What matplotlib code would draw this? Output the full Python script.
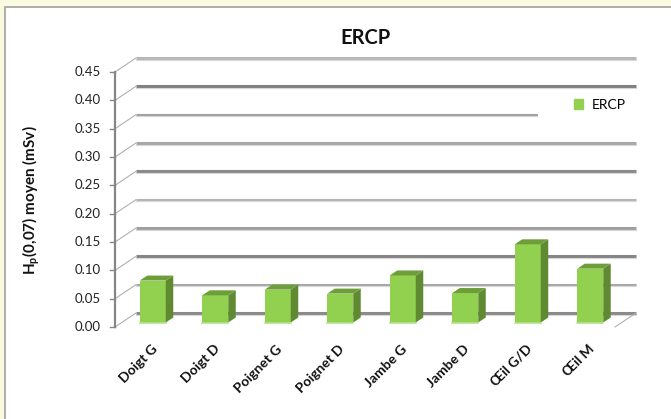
import matplotlib
matplotlib.use("Agg")
from matplotlib import pyplot as plt
from matplotlib.patches import Rectangle, Polygon, Patch

categories = ["Doigt G", "Doigt D", "Poignet G", "Poignet D", "Jambe G", "Jambe D", "Œil G/D", "Œil M"]
values = [0.074, 0.048, 0.058, 0.051, 0.083, 0.052, 0.138, 0.095]
yticks = [0.00, 0.05, 0.10, 0.15, 0.20, 0.25, 0.30, 0.35, 0.40, 0.45]
grid_colors = ["#8a8a8a", "#a8a8a8", "#858585", "#a0a0a0", "#b4b4b4",
               "#8a8a8a", "#a8a8a8", "#a0a0a0", "#808080", "#b8b8b8"]

W, H = 671, 419
plt.rcParams['font.family'] = ['Lato', 'DejaVu Sans']

fig = plt.figure(figsize=(W / 100, H / 100), dpi=100)
fig.patch.set_facecolor("#fafae0")
fig.patches.append(Rectangle((4.5 / W, -0.01), 1.1, 1.01 - 7.5 / H, transform=fig.transFigure,
                             facecolor="white", edgecolor="#a0a0a0", lw=1.2, zorder=-10))

# front plane of the plot, in pixels
L, R, T, B = 115, 615, 72, 327
ax = fig.add_axes([L / W, 1 - B / H, (R - L) / W, (B - T) / H])
ax.set_xlim(0, 8)
ax.set_ylim(0, 0.45)
ax.axis("off")
ax.patch.set_alpha(0)

px = 8 / (R - L)
py = 0.45 / (B - T)

# depth offsets in pixels
back = (21, 14)
bfront = (6.5, 4.5)
bback = (14, 9.5)

# back wall gridlines and side diagonals
for v, c in zip(yticks, grid_colors):
    ax.plot([back[0] * px, 8 + back[0] * px], [v + back[1] * py] * 2, color=c, lw=2.2,
            solid_capstyle="butt", clip_on=False, zorder=1)
    ax.plot([back[0] * px, 8 + back[0] * px], [v + (back[1] - 1.8) * py] * 2, color="#d8d8d8",
            lw=0.8, clip_on=False, zorder=1)
    ax.plot([0, back[0] * px], [v, v + back[1] * py], color="#b0b0b0", lw=0.8, clip_on=False, zorder=1)
    ax.plot([-5 * px, 0], [v, v], color="#868686", lw=1.0, clip_on=False, zorder=2)
    ax.text(-14 * px, v, f"{v:.2f}", ha="right", va="center", fontsize=9.5, color="#222222")

ax.plot([0, 0], [0, 0.45], color="#868686", lw=1.6, clip_on=False, zorder=2)
ax.plot([8, 8 + back[0] * px], [0, back[1] * py], color="#b0b0b0", lw=0.8, clip_on=False, zorder=1)

# 3D bars
bw = 26 * px
for i, v in enumerate(values):
    x0 = i + 0.5 - bw / 2 + bfront[0] * px
    x1 = x0 + bw
    y0 = bfront[1] * py
    y1 = v + y0
    sx = (bback[0] - bfront[0]) * px
    sy = (bback[1] - bfront[1]) * py
    ax.add_patch(Rectangle((x0, y0), bw, v, facecolor="#92d050", edgecolor="none", zorder=3))
    ax.add_patch(Polygon([(x1, y0), (x1 + sx, y0 + sy), (x1 + sx, y1 + sy), (x1, y1)],
                         facecolor="#5f8a32", edgecolor="none", zorder=3))
    ax.add_patch(Polygon([(x0, y1), (x1, y1), (x1 + sx, y1 + sy), (x0 + sx, y1 + sy)],
                         facecolor="#6e9e3a", edgecolor="none", zorder=3))
    ax.plot([x0, x1], [y0, y0], color="#b6e08c", lw=1.2, zorder=4)

# category labels
for i, lab in enumerate(categories):
    xc = i + 0.5 + 9 * px
    ax.text(xc, -20 * py, lab, rotation=45, rotation_mode="anchor", ha="right", va="center",
            fontsize=10, fontweight="bold", color="#111111")

ax.set_title("ERCP", fontsize=14.5, fontweight="bold", pad=20, color="#111111")
fig.text(31 / W, 1 - 200 / H, r"H$_\mathregular{p}$(0,07) moyen (mSv)", rotation=90,
         ha="center", va="center", fontsize=11, fontweight="bold", color="#111111")

# legend area (white box that hides part of the back wall)
ax.add_patch(Rectangle((538 / W, 1 - 122 / H), 100 / W, 32 / H, transform=fig.transFigure,
                       facecolor="white", edgecolor="none", zorder=4, clip_on=False))
leg = ax.legend(handles=[Patch(color="#92d050", label="ERCP")], loc="center left",
                bbox_to_anchor=(561 / W, 1 - 105 / H), bbox_transform=fig.transFigure,
                frameon=False, handlelength=0.7, handleheight=0.7, handletextpad=0.6,
                fontsize=10)
leg.set_zorder(5)

fig.savefig("out.png", dpi=100, facecolor=fig.get_facecolor())
